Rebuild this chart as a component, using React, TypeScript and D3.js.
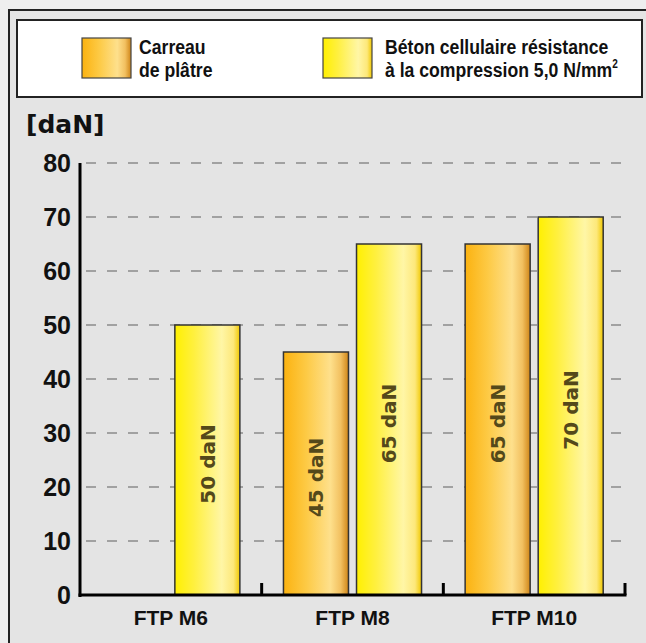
import * as d3 from 'd3';

const categories = ['FTP M6', 'FTP M8', 'FTP M10'];
const platre: (number | null)[] = [null, 45, 65];
const beton: (number | null)[] = [50, 65, 70];
const yTicks = [0, 10, 20, 30, 40, 50, 60, 70, 80];
const unitLabel = '[daN]';

const W = 646;
const H = 643;
const SX = 0.84; // horizontal squeeze for the condensed legend type

export default function App() {
  const x = d3.scaleBand<string>().domain(categories).range([80, 625]);
  const bw = x.bandwidth();
  const inner = d3.scaleBand<string>()
    .domain(['platre', 'beton'])
    .range([bw * 0.12, bw * 0.88])
    .paddingInner(0.11);
  const y = d3.scaleLinear().domain([0, 80]).range([595, 163]);

  const bars = categories.flatMap((c, i) => [
    { key: 'platre', cat: c, v: platre[i] },
    { key: 'beton', cat: c, v: beton[i] },
  ]).filter(b => b.v != null) as { key: string; cat: string; v: number }[];

  const bold = 'bold';
  const sans = '"Liberation Sans", Arial, sans-serif';

  return (
    <svg width={W} height={H} style={{ position: 'absolute', left: 0, top: 0, display: 'block' }}>
      <defs>
        <linearGradient id="gPlatre" x1="0" x2="1" y1="0" y2="0">
          <stop offset="0%" stopColor="#fbb210" />
          <stop offset="35%" stopColor="#fdca45" />
          <stop offset="72%" stopColor="#fee08c" />
          <stop offset="88%" stopColor="#f2c060" />
          <stop offset="100%" stopColor="#cf8517" />
        </linearGradient>
        <linearGradient id="gBeton" x1="0" x2="1" y1="0" y2="0">
          <stop offset="0%" stopColor="#fff000" />
          <stop offset="30%" stopColor="#fff040" />
          <stop offset="72%" stopColor="#fff6a6" />
          <stop offset="90%" stopColor="#fde87a" />
          <stop offset="100%" stopColor="#f0c800" />
        </linearGradient>
      </defs>
      <rect x={0} y={0} width={W} height={H} fill="#eeeeee" />
      <rect x={9} y={10} width={700} height={700} fill="#e4e4e4" stroke="#222" strokeWidth={2} />

      {/* legend */}
      <rect x={17} y={20} width={625} height={77} fill="#fff" stroke="#222" strokeWidth={2} />
      <rect x={82} y={38} width={49} height={40} fill="url(#gPlatre)" stroke="#444" strokeWidth={1.2} />
      <rect x={323} y={38} width={49} height={40} fill="url(#gBeton)" stroke="#444" strokeWidth={1.2} />
      <g transform={`scale(${SX},1)`}>
        <text fontFamily={sans} fontWeight={bold} fontSize={21} fill="#111">
          <tspan x={139 / SX} y={54}>Carreau</tspan>
          <tspan x={139 / SX} y={77}>de plâtre</tspan>
        </text>
        <text fontFamily={sans} fontWeight={bold} fontSize={21} fill="#111">
          <tspan x={385 / SX} y={54}>Béton cellulaire résistance</tspan>
          <tspan x={385 / SX} y={77}>à la compression 5,0 N/mm</tspan>
          <tspan dy={-9} fontSize={12}>2</tspan>
        </text>
      </g>

      <text x={26} y={133} fontFamily="DejaVu Sans, sans-serif" fontWeight={bold} fontSize={25} fill="#111">{unitLabel}</text>

      {/* grid */}
      {yTicks.filter(t => t > 0).map(t => (
        <line key={'g' + t} x1={82} x2={625} y1={y(t)} y2={y(t)} stroke="#8a8a8a" strokeWidth={1.5} strokeDasharray="10 11" strokeDashoffset={-4} />
      ))}
      {yTicks.map(t => (
        <text key={'t' + t} x={71} y={y(t)} dy="0.36em" textAnchor="end" fontFamily={sans} fontWeight={bold} fontSize={25} fill="#111">{t}</text>
      ))}

      {/* bars */}
      {bars.map(b => {
        const bx = (x(b.cat) ?? 0) + (inner(b.key) ?? 0);
        const top = y(b.v);
        const cx = bx + inner.bandwidth() / 2;
        const cy = (top + y(0)) / 2 + 4;
        return (
          <g key={b.cat + b.key}>
            <rect x={bx} y={top} width={inner.bandwidth()} height={y(0) - top}
              fill={b.key === 'platre' ? 'url(#gPlatre)' : 'url(#gBeton)'} stroke="#333" strokeWidth={1.5} />
            <text transform={`translate(${cx},${cy}) rotate(-90)`} textAnchor="middle" dy="0.36em"
              fontFamily="DejaVu Sans, sans-serif" fontWeight={bold} fontSize={20} fill="#54491a">
              {b.v} daN
            </text>
          </g>
        );
      })}

      {/* axes */}
      <line x1={80} x2={80} y1={163} y2={597} stroke="#000" strokeWidth={3} />
      <line x1={78.5} x2={626.5} y1={595} y2={595} stroke="#000" strokeWidth={3} />
      {categories.map(c => (
        <line key={'k' + c} x1={(x(c) ?? 0) + bw} x2={(x(c) ?? 0) + bw} y1={595} y2={583} stroke="#000" strokeWidth={3} />
      ))}
      {categories.map(c => (
        <text key={'c' + c} x={(x(c) ?? 0) + bw / 2} y={625} textAnchor="middle"
          fontFamily={sans} fontWeight={bold} fontSize={21} fill="#111">{c}</text>
      ))}
    </svg>
  );
}
